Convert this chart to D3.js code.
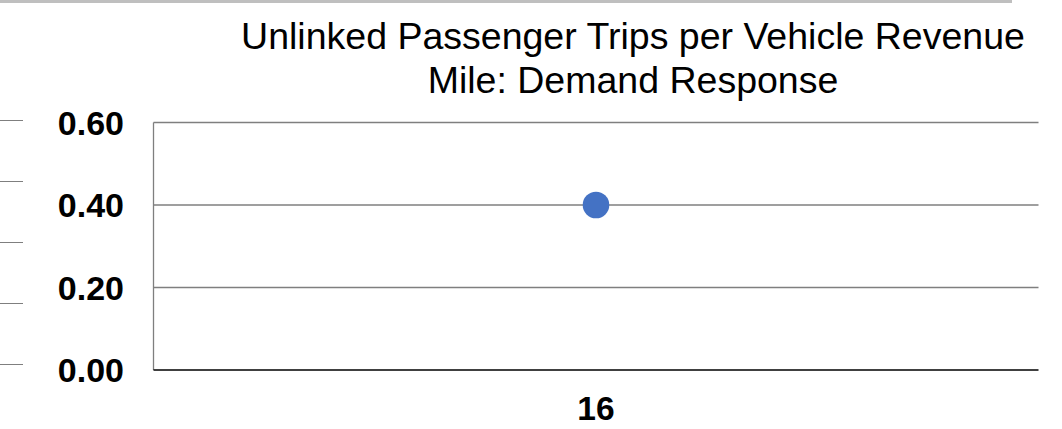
<!DOCTYPE html>
<html>
<head>
<meta charset="utf-8">
<script src="https://cdn.jsdelivr.net/npm/d3@7"></script>
<style>
  body { margin: 0; background: #fff; }
  svg { display: block; font-family: "Liberation Sans", Arial, sans-serif; }
</style>
</head>
<body>
<div id="chart"></div>
<script>
// chart data
var categories = ["16"];
var values = [0.40];
var yTicks = [0, 0.2, 0.4, 0.6];
var titleLines = ["Unlinked Passenger Trips per Vehicle Revenue", "Mile: Demand Response"];
// gridlines of the neighbouring chart peeking in at the left edge
var neighbourTicks = [0, 1, 2, 3, 4];

var width = 1062,
    height = 429,
    margin = {top: 122.5, right: 23.5, bottom: 59, left: 153.5};

var svg = d3.select("#chart")
  .append("svg")
  .attr("width", width)
  .attr("height", height);

// set up scales
var x = d3.scaleBand()
  .domain(categories)
  .range([margin.left, width - margin.right]);

var y = d3.scaleLinear()
  .domain([0, 0.6])
  .range([height - margin.bottom, margin.top]);

var yNeighbour = d3.scaleLinear()
  .domain([0, 4])
  .range([120.5, 364.5]);

// grey strip along the top (edge of the slide frame)
svg.append("rect")
  .attr("x", 0).attr("y", 0)
  .attr("width", 1012).attr("height", 3)
  .attr("fill", "#bfbfbf");

svg.selectAll(".neighbour")
  .data(neighbourTicks)
  .enter().append("line")
  .attr("class", "neighbour")
  .attr("x1", 0).attr("x2", 23)
  .attr("y1", d => yNeighbour(d))
  .attr("y2", d => yNeighbour(d))
  .attr("stroke", "#7f7f7f")
  .attr("stroke-width", 1);

// title
svg.append("text")
  .attr("x", 633)
  .attr("y", 49)
  .attr("text-anchor", "middle")
  .attr("font-size", 37.5)
  .attr("fill", "#000")
  .selectAll("tspan")
  .data(titleLines)
  .enter().append("tspan")
  .attr("x", 633)
  .attr("dy", (d, i) => i == 0 ? 0 : 43.5)
  .text(d => d);

// gridlines
svg.selectAll(".grid")
  .data(yTicks.filter(d => d > 0))
  .enter().append("line")
  .attr("class", "grid")
  .attr("x1", margin.left)
  .attr("x2", width - margin.right)
  .attr("y1", d => y(d))
  .attr("y2", d => y(d))
  .attr("stroke", "#7f7f7f")
  .attr("stroke-width", 1.3);

// left axis line
svg.append("line")
  .attr("x1", margin.left).attr("x2", margin.left)
  .attr("y1", y(0.6)).attr("y2", y(0))
  .attr("stroke", "#7f7f7f")
  .attr("stroke-width", 1.3);

// bottom axis line
svg.append("line")
  .attr("x1", margin.left).attr("x2", width - margin.right)
  .attr("y1", y(0)).attr("y2", y(0))
  .attr("stroke", "#000")
  .attr("stroke-width", 1.3);

// y tick labels
svg.selectAll(".ylab")
  .data(yTicks)
  .enter().append("text")
  .attr("class", "ylab")
  .attr("x", 124)
  .attr("y", d => y(d))
  .attr("dy", "0.36em")
  .attr("text-anchor", "end")
  .attr("font-size", 34)
  .attr("font-weight", "bold")
  .text(d => d3.format(".2f")(d));

// x tick labels
svg.selectAll(".xlab")
  .data(categories)
  .enter().append("text")
  .attr("class", "xlab")
  .attr("x", d => x(d) + x.bandwidth() / 2)
  .attr("y", 420)
  .attr("text-anchor", "middle")
  .attr("font-size", 33.5)
  .attr("font-weight", "bold")
  .text(d => d);

// points
svg.selectAll(".dot")
  .data(values)
  .enter().append("circle")
  .attr("class", "dot")
  .attr("cx", (d, i) => x(categories[i]) + x.bandwidth() / 2)
  .attr("cy", d => y(d))
  .attr("r", 13.3)
  .attr("fill", "#4472c4");
</script>
</body>
</html>
